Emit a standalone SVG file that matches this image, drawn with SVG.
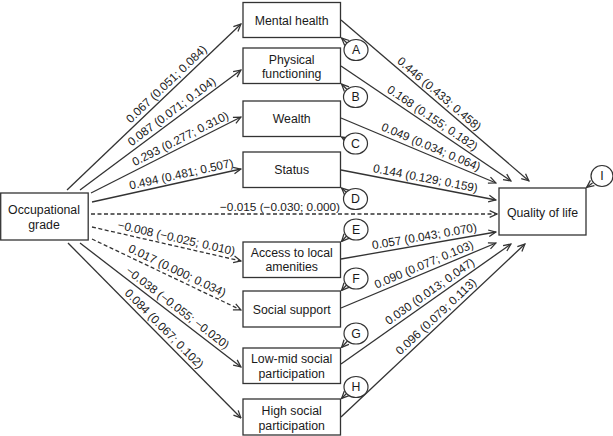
<svg xmlns="http://www.w3.org/2000/svg" width="613" height="436" viewBox="0 0 613 436">
<style>
.box{fill:#fff;stroke:#333;stroke-width:1.3}
.nt{font-family:"Liberation Sans",Arial,sans-serif;font-size:12.3px;fill:#1a1a1a;text-anchor:middle}
.lab{font-family:"Liberation Sans",Arial,sans-serif;font-size:11.8px;fill:#1a1a1a;text-anchor:middle}
.ln{fill:none;stroke:#333;stroke-width:1.3;marker-end:url(#ah)}
.ds{stroke-dasharray:4 2.5}
.cir{fill:#fff;stroke:#333;stroke-width:1.2}
</style>
<defs>
<marker id="ah" viewBox="0 0 10 10" refX="9.2" refY="5" markerWidth="9" markerHeight="9" markerUnits="userSpaceOnUse" orient="auto">
<path d="M1,1.3 L9,5 L1,8.7" fill="none" stroke="#333" stroke-width="1.4"/>
</marker>
</defs>
<rect width="613" height="436" fill="#fff"/>

<g id="connectors">
<line class="ln" x1="67" y1="190" x2="241" y2="24"/>
<line class="ln" x1="80" y1="190" x2="241" y2="70"/>
<line class="ln" x1="91" y1="193" x2="241" y2="117"/>
<line class="ln" x1="92" y1="202" x2="241" y2="169"/>
<line class="ln ds" x1="91" y1="214" x2="497" y2="214"/>
<line class="ln ds" x1="92" y1="227" x2="241" y2="261"/>
<line class="ln ds" x1="92" y1="239" x2="241" y2="310"/>
<line class="ln" x1="80" y1="243" x2="241" y2="367"/>
<line class="ln" x1="68" y1="243" x2="241" y2="418"/>

<line class="ln" x1="341" y1="20" x2="529" y2="181"/>
<line class="ln" x1="341" y1="66" x2="511" y2="181"/>
<line class="ln" x1="341" y1="118" x2="496" y2="183"/>
<line class="ln" x1="341" y1="170" x2="496" y2="200"/>
<line class="ln" x1="341" y1="259" x2="496" y2="232"/>
<line class="ln" x1="341" y1="308" x2="496" y2="243"/>
<line class="ln" x1="341" y1="364" x2="511" y2="244"/>
<line class="ln" x1="341" y1="417" x2="525" y2="244"/>

<line class="ln" x1="347" y1="43" x2="341.5" y2="38"/>
<line class="ln" x1="347" y1="89.5" x2="341.5" y2="84"/>
<line class="ln" x1="345" y1="139" x2="341.5" y2="137"/>
<line class="ln" x1="346" y1="192" x2="341.5" y2="188"/>
<line class="ln" x1="347" y1="235.5" x2="341.5" y2="241.5"/>
<line class="ln" x1="347" y1="284.5" x2="341.5" y2="290.5"/>
<line class="ln" x1="347.5" y1="341" x2="341.5" y2="347.5"/>
<line class="ln" x1="347" y1="393" x2="341.5" y2="398.5"/>
<line class="ln" x1="592.5" y1="183" x2="586.5" y2="187.5"/>

<g transform="translate(172,90) rotate(-43.65)"><text class="lab" y="-4.2">0.067 (0.051; 0.084)</text></g>
<g transform="translate(176.5,118) rotate(-36.7)"><text class="lab" y="-4.2">0.087 (0.071; 0.104)</text></g>
<g transform="translate(184,146) rotate(-26.9)"><text class="lab" y="-4.2">0.293 (0.277; 0.310)</text></g>
<g transform="translate(183,182) rotate(-12.5)"><text class="lab" y="-4">0.494 (0.481; 0.507)</text></g>
<text class="lab" x="280" y="211">−0.015 (−0.030; 0.000)</text>
<g transform="translate(174.6,245.8) rotate(12.85)"><text class="lab" y="-4">−0.008 (−0.025; 0.010)</text></g>
<g transform="translate(173.7,278) rotate(25.5)"><text class="lab" y="-4.2">0.017 (0.000; 0.034)</text></g>
<g transform="translate(172.6,314.3) rotate(37.6)"><text class="lab" y="-4.2">−0.038 (−0.055; −0.020)</text></g>
<g transform="translate(158.5,334.5) rotate(45.3)"><text class="lab" y="-4.2">0.084 (0.067; 0.102)</text></g>

<g transform="translate(434,100) rotate(40.6)"><text class="lab" y="-4.2">0.446 (0.433; 0.458)</text></g>
<g transform="translate(428,124.8) rotate(34.1)"><text class="lab" y="-4.2">0.168 (0.155; 0.182)</text></g>
<g transform="translate(427.8,154.4) rotate(22.75)"><text class="lab" y="-4.2">0.049 (0.034; 0.064)</text></g>
<g transform="translate(424,186) rotate(10.95)"><text class="lab" y="-4">0.144 (0.129; 0.159)</text></g>
<g transform="translate(425.8,244.2) rotate(-9.88)"><text class="lab" y="-4">0.057 (0.043; 0.070)</text></g>
<g transform="translate(427,272) rotate(-22.75)"><text class="lab" y="-4.2">0.090 (0.077; 0.103)</text></g>
<g transform="translate(434.5,298) rotate(-35.2)"><text class="lab" y="-4.2">0.030 (0.013; 0.047)</text></g>
<g transform="translate(441.5,322.5) rotate(-43.2)"><text class="lab" y="-4.2">0.096 (0.079; 0.113)</text></g>
</g>

<g id="occupational-grade"><rect class="box" x="0.7" y="193" width="87.5" height="47"/><text class="nt" x="44" y="214">Occupational</text><text class="nt" x="44" y="229">grade</text></g>
<g id="mental-health"><rect class="box" x="243" y="2.5" width="97.5" height="35"/><text class="nt" x="291.7" y="25">Mental health</text></g>
<g id="physical-functioning"><rect class="box" x="243" y="48" width="97.5" height="35.5"/><text class="nt" x="291.7" y="63.5">Physical</text><text class="nt" x="291.7" y="78">functioning</text></g>
<g id="wealth"><rect class="box" x="243" y="101" width="97.5" height="35.5"/><text class="nt" x="291.7" y="122.8">Wealth</text></g>
<g id="status"><rect class="box" x="243" y="152" width="97.5" height="35.5"/><text class="nt" x="291.7" y="174.3">Status</text></g>
<g id="access"><rect class="box" x="243" y="242" width="97.5" height="35.5"/><text class="nt" x="291.7" y="256.5">Access to local</text><text class="nt" x="291.7" y="271">amenities</text></g>
<g id="social-support"><rect class="box" x="243" y="291" width="97.5" height="36"/><text class="nt" x="291.7" y="313.5">Social support</text></g>
<g id="low-mid"><rect class="box" x="243" y="348" width="97.5" height="35.5"/><text class="nt" x="291.7" y="363">Low-mid social</text><text class="nt" x="291.7" y="377.5">participation</text></g>
<g id="high"><rect class="box" x="243" y="399" width="97.5" height="36"/><text class="nt" x="291.7" y="415">High social</text><text class="nt" x="291.7" y="429.5">participation</text></g>
<g id="quality-of-life"><rect class="box" x="499" y="188" width="87" height="47"/><text class="nt" x="542.5" y="216.5">Quality of life</text></g>

<g id="err-A"><ellipse class="cir" cx="356" cy="50" rx="12" ry="10.5"/><text class="nt" x="356" y="54.4">A</text></g>
<g id="err-B"><ellipse class="cir" cx="355.5" cy="97" rx="12" ry="10.5"/><text class="nt" x="355.5" y="101.4">B</text></g>
<g id="err-C"><ellipse class="cir" cx="355.5" cy="143.5" rx="12" ry="10.5"/><text class="nt" x="355.5" y="147.9">C</text></g>
<g id="err-D"><ellipse class="cir" cx="355.5" cy="199" rx="12" ry="10.5"/><text class="nt" x="355.5" y="203.4">D</text></g>
<g id="err-E"><ellipse class="cir" cx="356" cy="229.5" rx="12" ry="10.5"/><text class="nt" x="356" y="233.9">E</text></g>
<g id="err-F"><ellipse class="cir" cx="356" cy="278.5" rx="12" ry="10.5"/><text class="nt" x="356" y="282.9">F</text></g>
<g id="err-G"><ellipse class="cir" cx="356" cy="333.5" rx="12" ry="10.5"/><text class="nt" x="356" y="337.9">G</text></g>
<g id="err-H"><ellipse class="cir" cx="356" cy="387" rx="12" ry="10.5"/><text class="nt" x="356" y="391.4">H</text></g>
<g id="err-I"><ellipse class="cir" cx="602" cy="176" rx="11" ry="10.5"/><text class="nt" x="602" y="180.4">I</text></g>
</svg>
